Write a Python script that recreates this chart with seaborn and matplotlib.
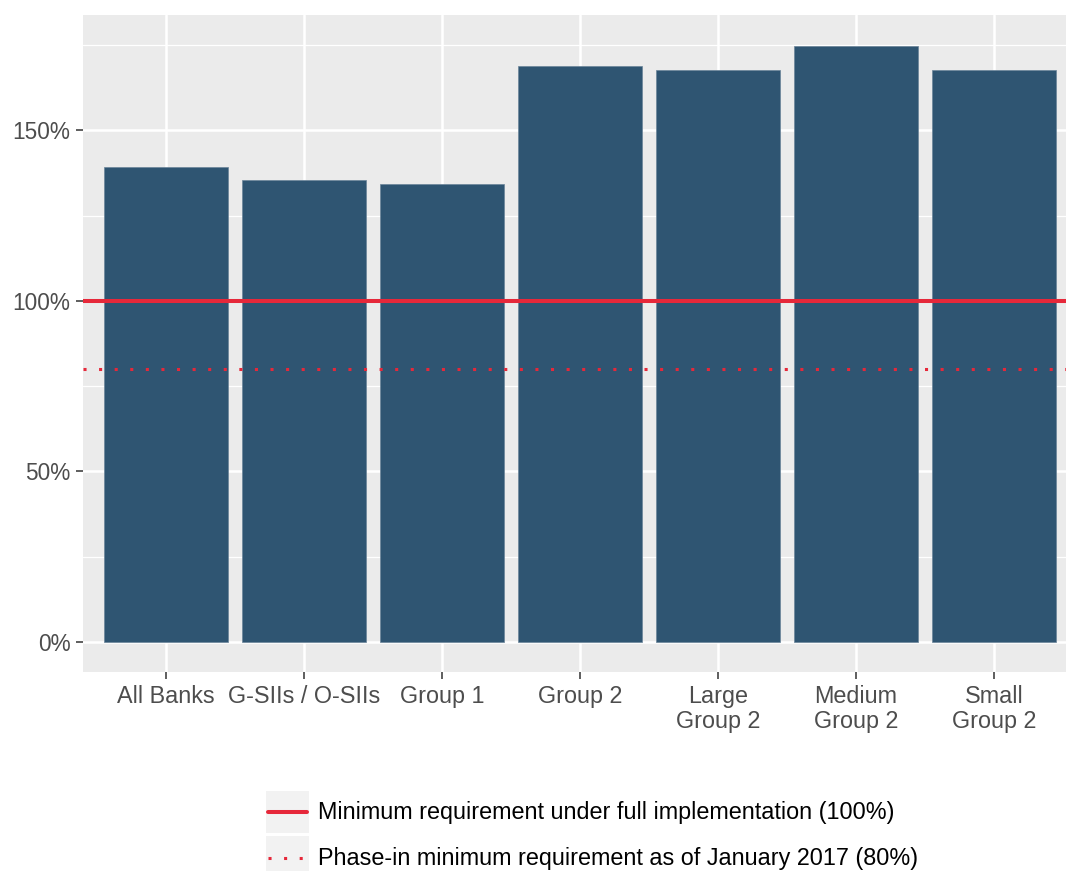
import numpy as np
import pandas as pd
import matplotlib
matplotlib.use('Agg')
import matplotlib.pyplot as plt
import seaborn as sns
from matplotlib.ticker import PercentFormatter, MultipleLocator
from matplotlib.lines import Line2D
from matplotlib.patches import Rectangle
from matplotlib.legend_handler import HandlerBase

# data
categories = ['All Banks', 'G-SIIs / O-SIIs', 'Group 1', 'Group 2',
              'Large\nGroup 2', 'Medium\nGroup 2', 'Small\nGroup 2']
ratios = [139.3, 135.3, 134.1, 168.9, 167.5, 174.7, 167.5]
full_req = 100
phase_in_req = 80
legend_labels = ['Minimum requirement under full implementation (100%)',
                 'Phase-in minimum requirement as of January 2017 (80%)']

bar_color = '#2F5572'
red = '#E6283A'
dotted = (0, (1, 4.1))


# ggplot-like legend key: grey square with the line across its middle
class KeyHandler(HandlerBase):
    def create_artists(self, legend, orig_handle, xdescent, ydescent,
                       width, height, fontsize, trans):
        gap = 2.2
        bg = Rectangle((-xdescent, -ydescent + gap / 2), width, height - gap,
                       facecolor='#F2F2F2', edgecolor='none', transform=trans)
        y = -ydescent + height / 2
        line = Line2D([-xdescent + 1.5, -xdescent + width - 1.5], [y, y])
        line.update_from(orig_handle)
        line.set_transform(trans)
        return [bg, line]


sns.set_style('darkgrid', rc={'axes.facecolor': '#EBEBEB'})
plt.rcParams['font.family'] = ['Liberation Sans', 'DejaVu Sans']

W, H = 1066, 871
fig = plt.figure(figsize=(W / 100, H / 100), dpi=100)
# panel runs past the right edge like in the original
ax = fig.add_axes([83 / W, (H - 672) / H, 993.6 / W, 657 / H])

df = pd.DataFrame({'group': categories, 'ratio': ratios})
sns.barplot(data=df, x='group', y='ratio', color=bar_color, saturation=1,
            width=0.9, edgecolor='#6A8499', linewidth=0.5, ax=ax, zorder=2)

ax.axhline(full_req, color=red, lw=2.9, zorder=3)
ax.axhline(phase_in_req, color=red, lw=2.2, ls=dotted, zorder=3)

ax.set_xlim(-0.6, 6.6)
ax.set_ylim(-0.05 * 175, 1.05 * 175)
ax.yaxis.set_major_locator(MultipleLocator(50))
ax.yaxis.set_minor_locator(MultipleLocator(25))
ax.yaxis.set_major_formatter(PercentFormatter(decimals=0))
ax.set_axisbelow(True)
ax.grid(which='major', color='white', lw=1.8)
ax.grid(which='minor', axis='y', color='white', lw=0.9)
ax.set_xlabel('')
ax.set_ylabel('')
for s in ax.spines.values():
    s.set_visible(False)

ax.tick_params(which='major', bottom=True, left=True, length=5, width=1.1,
               color='#333333', labelcolor='#4D4D4D', pad=4)
ax.tick_params(axis='x', labelsize=16.8)
ax.tick_params(axis='y', labelsize=16.3)
ax.tick_params(which='minor', length=0)
for lbl in ax.get_xticklabels():
    lbl.set_linespacing(1.15)

handles = [Line2D([], [], color=red, lw=2.9),
           Line2D([], [], color=red, lw=2.2, ls=dotted)]
fig.legend(handles=handles, labels=legend_labels,
           handler_map={Line2D: KeyHandler()},
           loc='upper left', bbox_to_anchor=(266 / W, 1 - 789 / H),
           frameon=False, borderpad=0, borderaxespad=0,
           handlelength=1.85, handleheight=2.65, handletextpad=0.4,
           labelspacing=0.0, fontsize=16.8, labelcolor='black')

fig.savefig('out.png', dpi=100)
